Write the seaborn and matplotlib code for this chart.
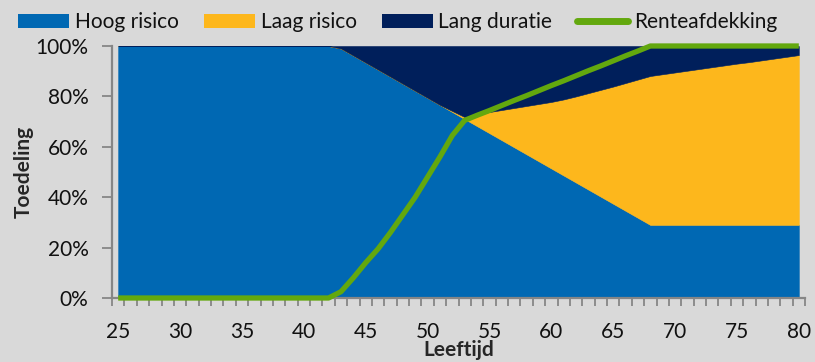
import matplotlib
matplotlib.use("Agg")
import matplotlib.pyplot as plt
from matplotlib.patches import Patch
from matplotlib.lines import Line2D
from matplotlib.ticker import FixedLocator, FuncFormatter
import numpy as np
import pandas as pd
import seaborn as sns

# Age axis (years)
leeftijd = list(range(25, 81))

# Allocation per age, in percent of the portfolio
hoog_risico = [100] * 18 + [
    99.0, 96.2, 93.4, 90.6, 87.8, 85.0, 82.2, 79.4, 76.6, 73.8,   # 43-52
    71.0, 68.2, 65.4, 62.6, 59.8, 57.0, 54.2, 51.4, 48.6, 45.8,   # 53-62
    43.0, 40.2, 37.4, 34.6, 31.8, 29.0,                           # 63-68
] + [29.0] * 12                                                   # 69-80

laag_risico = [0] * 27 + [
    0.4, 0.8, 4.6, 8.4, 12.0, 15.6, 19.2, 22.8, 26.4, 30.2,       # 52-61
    34.2, 38.3, 42.4, 46.5, 50.7, 54.9, 59.1, 59.8, 60.5, 61.2,   # 62-71
    61.9, 62.6, 63.3, 64.0, 64.6, 65.3, 66.0, 66.7, 67.4,         # 72-80
]

lang_duratie = [0] * 18 + [
    1.0, 3.8, 6.6, 9.4, 12.2, 15.0, 17.8, 20.6, 23.4, 25.8,       # 43-52
    28.2, 27.2, 26.2, 25.4, 24.6, 23.8, 23.0, 22.2, 21.2, 20.0,   # 53-62
    18.7, 17.4, 16.1, 14.7, 13.3, 11.9, 11.2, 10.5, 9.8, 9.1,     # 63-72
    8.4, 7.7, 7.0, 6.4, 5.7, 5.0, 4.3, 3.6,                       # 73-80
]

renteafdekking = [0] * 18 + [
    2.5, 8.0, 14.0, 19.5, 26.0, 33.0, 40.0, 48.0, 56.0, 64.5,     # 43-52
    70.5, 72.5, 74.4, 76.4, 78.4, 80.3, 82.3, 84.3, 86.2, 88.2,   # 53-62
    90.2, 92.1, 94.1, 96.1, 98.0,                                 # 63-67
] + [100.0] * 13                                                  # 68-80

reeksen = ["Hoog risico", "Laag risico", "Lang duratie"]
kleuren = ["#0068B3", "#FDB71C", "#001F5B"]
groen = "#63A80E"
achtergrond = "#D9D9D9"
as_kleur = "#868686"

df = pd.DataFrame({
    "Leeftijd": leeftijd,
    "Hoog risico": hoog_risico,
    "Laag risico": laag_risico,
    "Lang duratie": lang_duratie,
    "Renteafdekking": renteafdekking,
})

sns.set_theme(style="white")
plt.rcParams["font.family"] = ["Lato", "DejaVu Sans"]
plt.rcParams["text.color"] = "#111111"

fig = plt.figure(figsize=(8.15, 3.62), dpi=100, facecolor=achtergrond)
ax = fig.add_axes([112 / 815, 1 - 298 / 362, (805 - 112) / 815, (298 - 46) / 362])
ax.set_facecolor(achtergrond)

ax.stackplot(df["Leeftijd"], *[df[r] for r in reeksen], colors=kleuren,
             linewidth=0.4, edgecolor="face")

sns.lineplot(data=df, x="Leeftijd", y="Renteafdekking", color=groen,
             linewidth=3.8, ax=ax, legend=False)
for ln in ax.lines:
    ln.set_clip_on(False)
    ln.set_solid_joinstyle("round")
    ln.set_solid_capstyle("butt")

ax.set_xlim(24.5, 80.5)
ax.set_ylim(0, 100)

fs = 15
ax.xaxis.set_major_locator(FixedLocator(list(range(25, 81, 5))))
ax.xaxis.set_minor_locator(FixedLocator(list(np.arange(24.5, 81, 1.0))))
ax.tick_params(axis="x", which="major", length=0, pad=17, labelsize=fs, labelcolor="#111111")
ax.tick_params(axis="x", which="minor", length=6, width=1.3, color=as_kleur, direction="out")
ax.xaxis.set_ticks_position("bottom")

ax.yaxis.set_major_locator(FixedLocator([0, 20, 40, 60, 80, 100]))
ax.yaxis.set_major_formatter(FuncFormatter(lambda v, p: f"{int(v)}%"))
ax.tick_params(axis="y", which="major", length=7, width=1.3, color=as_kleur,
               direction="out", pad=10, labelsize=fs, labelcolor="#111111")
ax.yaxis.set_ticks_position("left")

for side in ["top", "right"]:
    ax.spines[side].set_visible(False)
for side in ["left", "bottom"]:
    ax.spines[side].set_color(as_kleur)
    ax.spines[side].set_linewidth(1.6)
    ax.spines[side].set_zorder(1)

ax.set_xlabel("Leeftijd", fontsize=fs, fontweight="bold")
ax.set_ylabel("Toedeling", fontsize=fs, fontweight="bold")
ax.xaxis.set_label_coords(0.5, -0.168)
ax.yaxis.set_label_coords(-0.113, 0.5)

handles = [Patch(facecolor=c, edgecolor="none") for c in kleuren]
handles.append(Line2D([0], [0], color=groen, linewidth=5, solid_capstyle="round"))
labels = reeksen + ["Renteafdekking"]
fig.legend(handles, labels, loc="center left", bbox_to_anchor=(18 / 815, 1 - 22 / 362),
           ncol=4, frameon=False, fontsize=fs, handlelength=2.45, handleheight=0.68,
           handletextpad=0.28, columnspacing=1.2, borderaxespad=0, borderpad=0)

fig.savefig("out.png", dpi=100, facecolor=achtergrond)
